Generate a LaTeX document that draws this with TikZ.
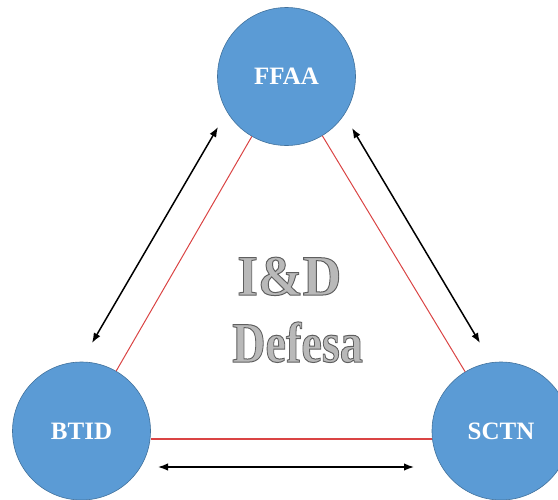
\documentclass[tikz,border=0pt]{standalone}
\usepackage{fontspec}
\setmainfont{Liberation Serif}
\usetikzlibrary{arrows.meta}

\definecolor{nodeblue}{RGB}{91,155,213}
\definecolor{nodeedge}{RGB}{65,113,156}
\definecolor{linkred}{RGB}{218,68,68}
\definecolor{titlegray}{RGB}{185,185,185}
\definecolor{titleedge}{RGB}{95,95,95}

% filled letters with a dark outline
\newcommand{\outlined}[1]{\pgfsetstrokecolor{titleedge}\special{pdf:literal direct 2 Tr 1 w}#1\special{pdf:literal direct 0 Tr}}

\begin{document}
\begin{tikzpicture}[x=1pt, y=-1pt,
    party/.style={circle, draw=nodeedge, line width=0.6pt, fill=nodeblue,
      minimum size=138pt, inner sep=0pt, text=white,
      font=\bfseries\fontsize{25}{30}\selectfont},
    link/.style={draw=linkred, line width=1pt},
    flow/.style={{Latex[length=10pt,width=7.5pt]}-{Latex[length=10pt,width=7.5pt]}, line width=1.5pt},
    title/.style={anchor=base west, inner sep=0pt, text=titlegray, transform shape,
      font=\bfseries\fontsize{57}{64}\selectfont}
  ]
  \useasboundingbox (0,0) rectangle (558,499);

  \node[party] (ffaa) at (286.5,76.5) {FFAA};
  \node[party] (btid) at (81.5,431) {BTID};
  \node[party] (sctn) at (501,431) {SCTN};

  \draw[link] (ffaa) -- (btid);
  \draw[link] (ffaa) -- (sctn);
  \draw[link, line width=1.2pt] ([yshift=-8pt]btid.east) -- ([yshift=-8pt]sctn.west);

  % arrow ends beside the triangle
  \coordinate (fb1) at (218,127);
  \coordinate (fb2) at (92,343);
  \coordinate (fs1) at (352,128);
  \coordinate (fs2) at (480,343);
  \coordinate (bs1) at (158,467);
  \coordinate (bs2) at (414,467);
  \draw[flow] (fb1) -- (fb2);
  \draw[flow] (fs1) -- (fs2);
  \draw[flow] (bs1) -- (bs2);

  \node[title, xscale=0.94] (idd) at (237,295) {\outlined{I\&D}};
  \node[title, xscale=0.81] (defesa) at (232,362) {\outlined{Defesa}};
\end{tikzpicture}
\end{document}
